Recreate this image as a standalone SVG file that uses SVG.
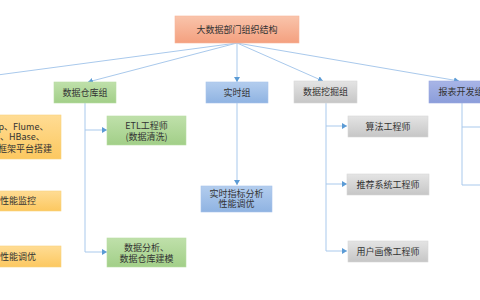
<svg xmlns="http://www.w3.org/2000/svg" width="480" height="300" viewBox="0 0 480 300">
<defs>
<linearGradient id="gOr" x1="0" y1="0" x2="0" y2="1"><stop offset="0" stop-color="#f9c4ab"/><stop offset="1" stop-color="#f4a07f"/></linearGradient>
<linearGradient id="gBl" x1="0" y1="0" x2="0" y2="1"><stop offset="0" stop-color="#b3cdee"/><stop offset="1" stop-color="#8fb3e2"/></linearGradient>
<linearGradient id="gPu" x1="0" y1="0" x2="0" y2="1"><stop offset="0" stop-color="#a8b5e6"/><stop offset="1" stop-color="#8b9dda"/></linearGradient>
<linearGradient id="gGr" x1="0" y1="0" x2="0" y2="1"><stop offset="0" stop-color="#e4e4e4"/><stop offset="1" stop-color="#c6c6c6"/></linearGradient>
<linearGradient id="gGn" x1="0" y1="0" x2="0" y2="1"><stop offset="0" stop-color="#bfe0aa"/><stop offset="1" stop-color="#a2cf88"/></linearGradient>
<linearGradient id="gYe" x1="0" y1="0" x2="0" y2="1"><stop offset="0" stop-color="#ffdc94"/><stop offset="1" stop-color="#fcc860"/></linearGradient>
<marker id="arr" markerUnits="userSpaceOnUse" markerWidth="6" markerHeight="6" refX="5" refY="3" orient="auto"><path d="M0,0 L5,3 L0,6 Z" fill="#5b9bd5"/></marker>
</defs>
<style>
text{font-family:"Noto Sans CJK SC","Liberation Sans",sans-serif;font-size:9px;fill:#333;text-anchor:middle}
.s{text-anchor:start}
.e{text-anchor:end}
.c{fill:none;stroke:#a9c9ec;stroke-width:1}
.a{marker-end:url(#arr)}
.or{fill:url(#gOr);stroke:#f7b59a;stroke-width:0.6}
.bl{fill:url(#gBl);stroke:#a7c3ea;stroke-width:0.6}
.pu{fill:url(#gPu);stroke:#9aa9e0;stroke-width:0.6}
.gr{fill:url(#gGr);stroke:#d8d8d8;stroke-width:0.6}
.gn{fill:url(#gGn);stroke:#b8dca4;stroke-width:0.6}
.ye{fill:url(#gYe);stroke:#f9d27e;stroke-width:0.6}
</style>
<rect width="480" height="300" fill="#ffffff"/>
<g id="connectors">
<path class="c" d="M237,43 L-40,80"/>
<path class="c a" d="M237,43 L88,82"/>
<path class="c a" d="M237,43 L237,82"/>
<path class="c a" d="M237,43 L323,81"/>
<path class="c a" d="M237,43 L459,81"/>
<path class="c" d="M85,103 L85,252"/>
<path class="c a" d="M85,130 L107,130"/>
<path class="c a" d="M85,252 L107,252"/>
<path class="c a" d="M237,103 L237,185"/>
<path class="c" d="M326,103 L326,251"/>
<path class="c a" d="M326,126 L347,126"/>
<path class="c a" d="M326,184 L347,184"/>
<path class="c a" d="M326,251 L347,251"/>
<path class="c" d="M462,103 L462,185 L482,185"/>
<path class="c" d="M462,127 L482,127"/>
</g>
<g id="root"><rect class="or" x="175" y="16" width="124" height="27"/><text x="237" y="33">大数据部门组织结构</text></g>
<g id="platform1"><rect class="ye" x="-60" y="115" width="121" height="44"/><text class="s" x="-1.5" y="129.5">p、Flume、</text><text class="s" x="0" y="140">、HBase、</text><text class="e" x="52" y="152">框架平台搭建</text></g>
<g id="platform2"><rect class="ye" x="-60" y="191" width="121" height="20"/><text class="e" x="36" y="204">性能监控</text></g>
<g id="platform3"><rect class="ye" x="-60" y="246" width="121" height="21"/><text class="e" x="36" y="259.5">性能调优</text></g>
<g id="dw"><rect class="gn" x="54" y="82" width="62" height="21"/><text x="85" y="95.5">数据仓库组</text></g>
<g id="etl"><rect class="gn" x="107" y="116" width="79" height="29"/><text x="146.5" y="128.5">ETL工程师</text><text x="146.5" y="139.5">(数据清洗)</text></g>
<g id="dwmodel"><rect class="gn" x="107" y="238" width="79" height="29"/><text x="146.5" y="251">数据分析、</text><text x="146.5" y="262">数据仓库建模</text></g>
<g id="rt"><rect class="bl" x="206" y="82" width="62" height="21"/><text x="237" y="95.5">实时组</text></g>
<g id="rtchild"><rect class="bl" x="201" y="186" width="71" height="26"/><text x="236.5" y="196.5">实时指标分析</text><text x="236.5" y="207">性能调优</text></g>
<g id="dm"><rect class="gr" x="294" y="81" width="63" height="22"/><text x="325.5" y="95">数据挖掘组</text></g>
<g id="algo"><rect class="gr" x="348" y="116" width="80" height="21"/><text x="388" y="129.5">算法工程师</text></g>
<g id="rec"><rect class="gr" x="347" y="174" width="82" height="21"/><text x="388" y="187.5">推荐系统工程师</text></g>
<g id="profile"><rect class="gr" x="348" y="241" width="80" height="21"/><text x="388" y="254.5">用户画像工程师</text></g>
<g id="report"><rect class="pu" x="429" y="81" width="64" height="22"/><text x="461" y="95">报表开发组</text></g>
</svg>
